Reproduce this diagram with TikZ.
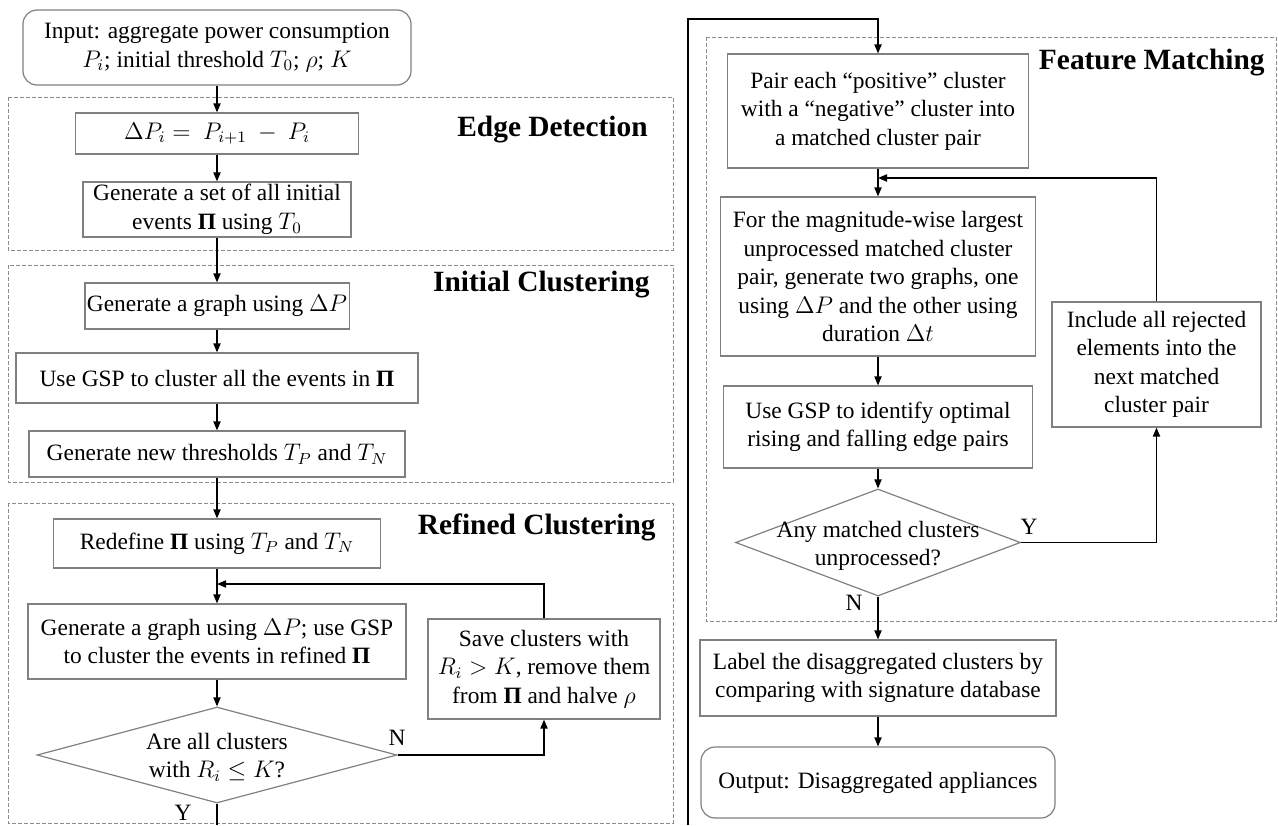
\documentclass[tikz,border=0pt]{standalone}
\usepackage{fontspec}
\setmainfont{Liberation Serif}
\usetikzlibrary{shapes.geometric,arrows.meta}
\definecolor{boxgray}{RGB}{128,128,128}
\definecolor{framegray}{RGB}{140,140,140}
\newcommand{\BPi}{\textbf{Π}}
\tikzset{
  box/.style={draw=boxgray, line width=0.6pt, align=center, inner sep=1pt},
  rbox/.style={box, rounded corners=7pt},
  dec/.style={diamond, draw=boxgray, line width=0.6pt, inner sep=0pt},
  frame/.style={draw=framegray, line width=0.5pt, dash pattern=on 2pt off 1pt},
  arr/.style={draw=black, line width=0.65pt, -{Triangle[length=4.5pt,width=3.6pt]}},
  plain/.style={draw=black, line width=0.65pt},
  ttl/.style={font=\fontsize{14.7}{17}\selectfont\bfseries, anchor=east, inner sep=0pt},
  yn/.style={inner sep=0pt}
}
\begin{document}
\begin{tikzpicture}[x=0.5pt,y=-0.5pt,font=\fontsize{11.7}{14.25}\selectfont]
\useasboundingbox (0,0) rectangle (1278,825);
% frames
\draw[frame] (8,97) rectangle (673,250);
\draw[frame] (8,265) rectangle (673,482);
\draw[frame] (8,503) rectangle (673,823);
\draw[frame] (706,37) rectangle (1276,621);
% titles
\node[ttl] (t1) at (648,130) {Edge Detection};
\node[ttl] (t2) at (650,285) {Initial Clustering};
\node[ttl] (t3) at (656,527) {Refined Clustering};
\node[ttl] (t4) at (1265,63) {Feature Matching};
% left column
\node[rbox, minimum width=194pt, minimum height=37.5pt] (input) at (217,47.5)
  {Input: aggregate power consumption\\ $P_i$; initial threshold $T_0$; $\rho$; $K$};
\node[box, minimum width=141.5pt, minimum height=20.5pt] (dP) at (217,133.5)
  {$\Delta P_i =\ P_{i+1}\ -\ P_i$};
\node[box, minimum width=134pt, minimum height=27.5pt] (genset) at (217,209.5)
  {Generate a set of all initial\\ events \BPi{} using $T_0$};
\node[box, minimum width=131.5pt, minimum height=23pt] (gengraph) at (217,306)
  {Generate a graph using $\Delta P$};
\node[box, minimum width=201pt, minimum height=25pt] (usegsp) at (217,378)
  {Use GSP to cluster all the events in \BPi};
\node[box, minimum width=188pt, minimum height=23pt] (newthr) at (217,454)
  {Generate new thresholds $T_P$ and $T_N$};
\node[box, minimum width=163.5pt, minimum height=24.5pt] (redef) at (217,543.5)
  {Redefine \BPi{} using $T_P$ and $T_N$};
\node[box, minimum width=189pt, minimum height=37.5pt] (gengsp) at (217,641.5)
  {Generate a graph using $\Delta P$; use GSP\\ to cluster the events in refined \BPi};
\node[box, minimum width=116pt, minimum height=50pt] (save) at (544,669)
  {Save clusters with\\ $R_i > K$, remove them\\ from \BPi{} and halve $\rho$};
\node[dec, minimum width=180pt, minimum height=48pt] (d1) at (217,755) {};
\node[align=center, inner sep=0pt] (d1t) at (217,757) {Are all clusters\\ with $R_i \leq K$?};
% right column
\node[box, minimum width=150.5pt, minimum height=57pt] (pair) at (878,111)
  {Pair each ``positive'' cluster\\ with a ``negative'' cluster into\\ a matched cluster pair};
\node[box, minimum width=157.5pt, minimum height=79.5pt] (for) at (878,276.5)
  {For the magnitude-wise largest\\ unprocessed matched cluster\\ pair, generate two graphs, one\\ using $\Delta P$ and the other using\\ duration $\Delta t$};
\node[box, minimum width=104.5pt, minimum height=62.5pt] (include) at (1156.5,364.5)
  {Include all rejected\\ elements into the\\ next matched\\ cluster pair};
\node[box, minimum width=154.5pt, minimum height=41pt] (useid) at (878,427)
  {Use GSP to identify optimal\\ rising and falling edge pairs};
\node[dec, minimum width=142.5pt, minimum height=53.5pt] (d2) at (878,542.5) {};
\node[align=center, inner sep=0pt] (d2t) at (878,546) {Any matched clusters\\ unprocessed?};
\node[box, minimum width=178pt, minimum height=38pt] (label) at (878,678)
  {Label the disaggregated clusters by\\ comparing with signature database};
\node[rbox, minimum width=177pt, minimum height=35.5pt] (output) at (878,782.5)
  {Output: Disaggregated appliances};
% connectors left
\draw[arr] (input) -- (dP);
\draw[arr] (dP) -- (genset);
\draw[arr] (genset) -- (gengraph);
\draw[arr] (gengraph) -- (usegsp);
\draw[arr] (usegsp) -- (newthr);
\draw[arr] (newthr) -- (redef);
\coordinate (m1) at (217,584);
\draw[arr] (redef) -- (gengsp);
\draw[arr] (save.north) |- (m1);
\draw[arr] (gengsp) -- (d1);
\draw[arr] (d1.east) -| (save.south);
\node[yn] (n1) at (397,738) {N};
\coordinate (ybot) at (217,825);
\draw[plain] (d1.south) -- (ybot);
\node[yn] (y1) at (183,813) {Y};
% connectors right
\coordinate (rbot) at (688,825);
\coordinate (rtop) at (688,19);
\draw[arr] (rbot) -- (rtop) -| (pair.north);
\coordinate (m2) at (878,178);
\draw[arr] (pair) -- (for);
\draw[arr] (include.north) |- (m2);
\draw[arr] (for) -- (useid);
\draw[arr] (useid) -- (d2);
\draw[arr] (d2.east) -| (include.south);
\node[yn] (y2) at (1029,527) {Y};
\draw[arr] (d2) -- (label);
\node[yn] (n2) at (854,603) {N};
\draw[arr] (label) -- (output);
\end{tikzpicture}
\end{document}
